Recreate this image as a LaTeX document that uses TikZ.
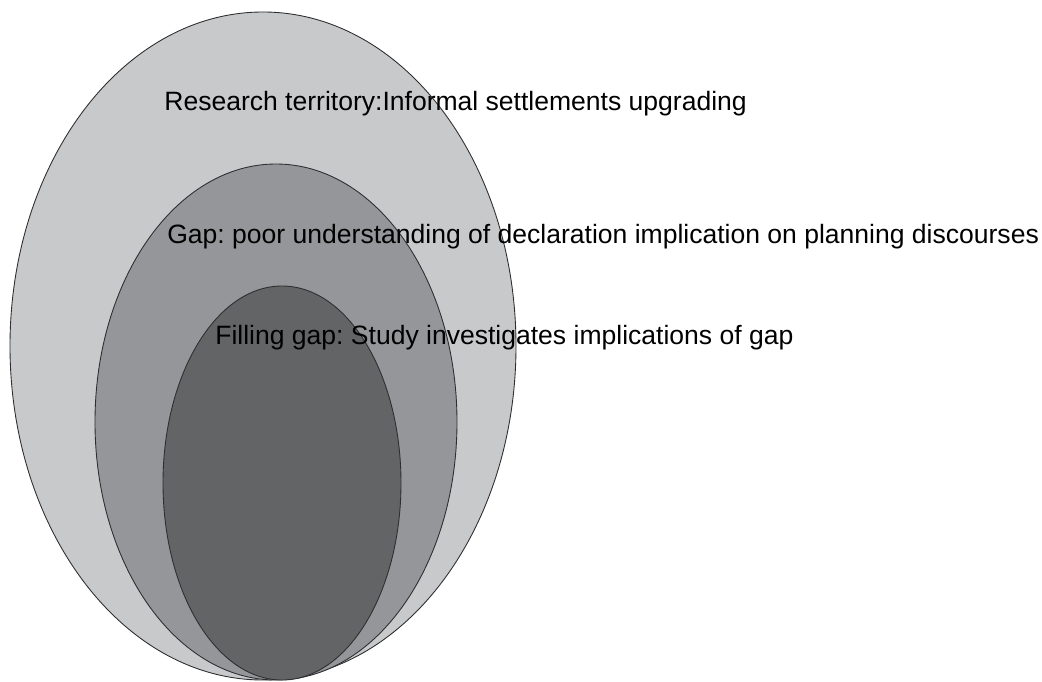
\documentclass[tikz,border=0pt]{standalone}
\usepackage{fontspec}
\setmainfont{Liberation Sans}
\usepackage{xcolor}
\definecolor{outergray}{HTML}{C8C9CB}
\definecolor{midgray}{HTML}{959699}
\definecolor{innergray}{HTML}{636466}
\definecolor{rimgray}{HTML}{2E2E30}
\frenchspacing
\begin{document}
\begin{tikzpicture}[x=0.02cm,y=-0.02cm]
\tikzset{rim/.style={draw=rimgray,line width=0.5pt},
  lbl/.style={anchor=base west,inner sep=0pt,font=\fontsize{15.1}{18}\selectfont}}
\useasboundingbox (0,0) rectangle (1042,682);
%\draw[red](0,0) rectangle (1042,682);
\draw[rim,fill=outergray](263,346) ellipse (253 and 334);
\draw[rim,fill=midgray](276,422) ellipse (181 and 258);
\draw[rim,fill=innergray](282,483) ellipse (119 and 197);
\node[lbl] (territory) at (164,111) {Research territory:Informal settlements upgrading};
\node[lbl] (gap) at (167,244) {Gap: poor understanding of declaration implication on planning discourses};
\node[lbl] (filling) at (215,345) {Filling gap: Study investigates implications of gap};
\end{tikzpicture}
\end{document}
